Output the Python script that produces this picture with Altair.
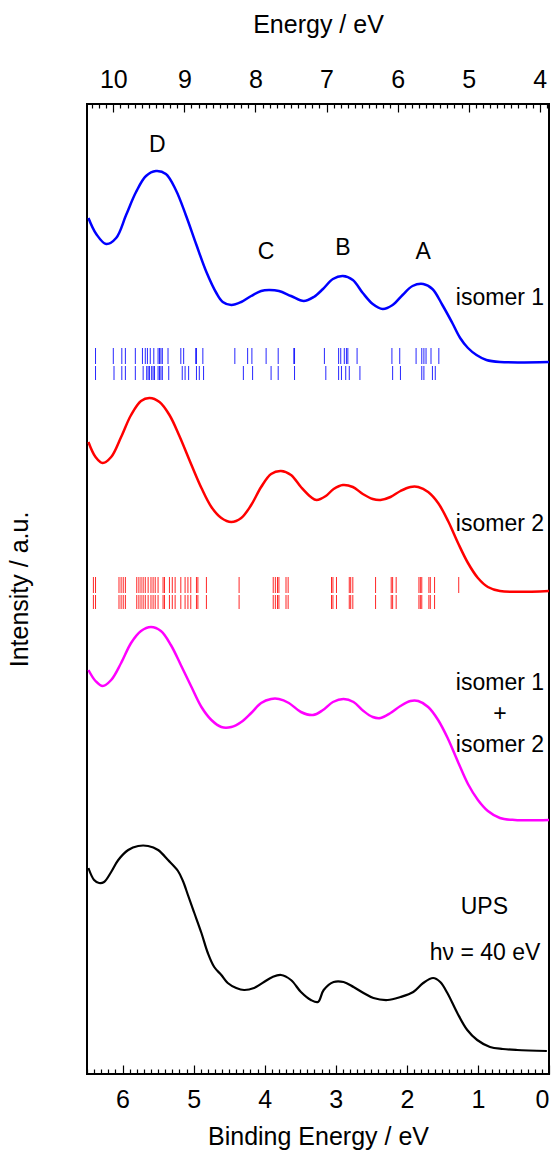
import altair as alt
import pandas as pd

# ---------------- data (binding energy in eV, intensity in a.u.) ----------------
be_iso1 = [6.48, 6.37, 6.23, 6.09, 5.95, 5.81, 5.67, 5.53, 5.39, 5.25, 5.11, 4.96, 4.82, 4.68, 4.59, 4.47,
           4.33, 4.19, 4.05, 3.94, 3.80, 3.63, 3.45, 3.31, 3.18, 3.04, 2.90, 2.76, 2.62, 2.48, 2.34, 2.20,
           2.06, 1.92, 1.77, 1.64, 1.50, 1.36, 1.25, 1.14, 1.02, 0.88, 0.69, 0.0]
i_iso1 = [856, 840, 830, 836, 859, 882, 898, 903, 900, 884, 859, 829, 802, 781, 772, 769,
          772, 778, 783, 784, 783, 778, 773, 777, 785, 795, 798, 794, 781, 770, 765, 769,
          779, 788, 790, 785, 769, 751, 736, 726, 719, 714, 712, 712]

be_iso2 = [6.48, 6.38, 6.28, 6.16, 6.02, 5.88, 5.74, 5.62, 5.48, 5.34, 5.20, 5.03, 4.89, 4.75, 4.61, 4.47,
           4.33, 4.19, 4.05, 3.91, 3.77, 3.63, 3.49, 3.35, 3.27, 3.14, 3.03, 2.90, 2.76, 2.62, 2.48, 2.37,
           2.23, 2.09, 1.95, 1.84, 1.70, 1.56, 1.42, 1.28, 1.14, 1.00, 0.86, 0.69, 0.0]
i_iso2 = [632, 617, 611, 617, 637, 659, 673, 676, 672, 659, 638, 609, 586, 567, 556, 552,
          556, 569, 587, 600, 603, 599, 587, 577, 574, 578, 585, 589, 587, 580, 575, 574,
          577, 583, 587, 587, 582, 571, 553, 531, 511, 496, 487, 483, 483]

be_sum = [6.48, 6.38, 6.28, 6.16, 6.02, 5.88, 5.74, 5.60, 5.46, 5.32, 5.18, 5.03, 4.89, 4.75, 4.61, 4.47,
          4.33, 4.19, 4.05, 3.91, 3.80, 3.66, 3.49, 3.32, 3.18, 3.04, 2.89, 2.75, 2.61, 2.48, 2.37, 2.23,
          2.09, 1.95, 1.84, 1.70, 1.56, 1.42, 1.28, 1.14, 1.00, 0.86, 0.69, 0.48, 0.0]
i_sum = [404, 393, 388, 394, 411, 431, 443, 447, 443, 429, 409, 387, 367, 354, 347, 347,
         352, 361, 371, 375, 375, 371, 362, 359, 364, 372, 375, 372, 363, 357, 356, 361,
         368, 373, 373, 367, 354, 335, 312, 290, 274, 263, 256, 254, 254]

be_ups = [6.48, 6.40, 6.33, 6.26, 6.16, 6.06, 5.92, 5.78, 5.64, 5.50, 5.36, 5.22, 5.15, 5.08, 4.99, 4.89,
          4.80, 4.71, 4.61, 4.52, 4.40, 4.29, 4.15, 4.01, 3.89, 3.77, 3.63, 3.49, 3.35, 3.25, 3.17, 3.03,
          2.89, 2.75, 2.61, 2.47, 2.27, 2.09, 1.91, 1.77, 1.63, 1.53, 1.43, 1.29, 1.15, 1.01, 0.83, 0.65,
          0.45, 0.03]
i_ups = [206, 194, 191, 192, 202, 214, 224, 228, 228, 224, 214, 203, 193, 179, 161, 141,
         121, 107, 99, 91, 86, 84, 86, 92, 97, 99, 94, 82, 74, 72, 84, 92,
         92, 87, 81, 76, 74, 77, 82, 91, 96, 92, 81, 61, 44, 34, 27, 25,
         24, 23]

# calculated levels (eV), two rows per isomer
sticks_iso1_a = [6.38, 6.13, 6.01, 5.96, 5.82, 5.72, 5.68, 5.65, 5.61, 5.56, 5.50, 5.48, 5.46, 5.44, 5.36,
                 5.18, 5.14, 4.97, 4.96, 4.87, 4.42, 4.24, 4.18, 3.98, 3.81, 3.59, 3.58, 3.16, 2.96, 2.93,
                 2.88, 2.85, 2.83, 2.70, 2.21, 2.10, 1.87, 1.79, 1.76, 1.73, 1.66, 1.55]
sticks_iso1_b = [6.38, 6.12, 6.01, 5.96, 5.82, 5.71, 5.66, 5.64, 5.62, 5.59, 5.57, 5.55, 5.50, 5.48, 5.46,
                 5.44, 5.35, 5.16, 5.12, 5.07, 4.96, 4.92, 4.86, 4.30, 4.17, 3.91, 3.81, 3.58, 3.14, 2.96,
                 2.92, 2.86, 2.81, 2.66, 2.20, 2.09, 1.79, 1.76, 1.64, 1.60]
sticks_iso2_a = [6.41, 6.38, 6.05, 6.02, 5.99, 5.96, 5.80, 5.77, 5.74, 5.71, 5.68, 5.64, 5.60, 5.57, 5.54,
                 5.50, 5.43, 5.41, 5.34, 5.30, 5.26, 5.18, 5.12, 5.08, 5.04, 4.96, 4.94, 4.82, 4.36, 3.88,
                 3.85, 3.82, 3.80, 3.70, 3.67, 3.06, 3.04, 2.99, 2.81, 2.79, 2.76, 2.44, 2.22, 2.20, 2.15,
                 1.83, 1.81, 1.79, 1.69, 1.67, 1.61, 1.27]
sticks_iso2_b = [6.41, 6.38, 6.05, 6.02, 5.99, 5.96, 5.80, 5.77, 5.74, 5.71, 5.68, 5.64, 5.60, 5.57, 5.54,
                 5.50, 5.43, 5.41, 5.34, 5.30, 5.26, 5.18, 5.12, 5.08, 5.04, 4.96, 4.94, 4.82, 4.36, 3.88,
                 3.85, 3.82, 3.80, 3.70, 3.67, 3.06, 3.04, 2.99, 2.81, 2.79, 2.76, 2.44, 2.22, 2.20, 2.15,
                 1.83, 1.81, 1.79, 1.69, 1.67, 1.61]

label_text = ["D", "C", "B", "A", "isomer 1", "isomer 2", "isomer 1", "+", "isomer 2", "UPS", "h\u03bd = 40 eV"]
label_be = [5.51, 3.98, 2.90, 1.77, 0.69, 0.69, 0.69, 0.69, 0.69, 0.91, 0.90]
label_i = [929, 822, 826, 822, 776, 550, 391, 360, 329, 167, 121]

be_major = [0.0, 1.0, 2.0, 3.0, 4.0, 5.0, 6.0]
be_minor = [round(k * 0.1, 1) for k in range(0, 66) if k % 10 != 0]
e_offset = 3.87
e_major = [4.0, 5.0, 6.0, 7.0, 8.0, 9.0, 10.0]
e_minor = [round(k * 0.1, 1) for k in range(39, 104) if k % 10 != 0]

# ---------------- chart ----------------
W, H = 462, 970
Y_MAX = 970
FONT_AX = "Liberation Sans"
FONT_TX = "Liberation Sans"
FS_AX = 25
FS_TX = 23
MAJOR_LEN, MINOR_LEN = 9, 5

xs = alt.Scale(domain=[6.5, 0], nice=False, zero=False)
ys = alt.Scale(domain=[0, Y_MAX], nice=False, zero=False)
x_enc = alt.X("be:Q", scale=xs,
              axis=alt.Axis(orient="bottom", title="Binding Energy / eV", values=be_major, format="d",
                            ticks=True, tickSize=MAJOR_LEN, tickWidth=1.2, tickColor="black",
                            offset=-MAJOR_LEN, domain=False, grid=False, labelPadding=13, titlePadding=12,
                            labelFontSize=FS_AX, titleFontSize=FS_AX))
x_minor_enc = alt.X("be:Q", scale=xs,
                    axis=alt.Axis(orient="bottom", title="", values=be_minor, labels=False,
                                  ticks=True, tickSize=MINOR_LEN, tickWidth=1.2, tickColor="black",
                                  offset=-MINOR_LEN, domain=False, grid=False))
y_enc = alt.Y("i:Q", scale=ys,
              axis=alt.Axis(title="Intensity / a.u.", labels=False, ticks=False, domain=False,
                            grid=False, titlePadding=55, titleFontSize=FS_AX))


def curve(be, inten, color, width=2.5):
    df = pd.DataFrame({"be": be, "i": inten})
    return alt.Chart(df).mark_line(color=color, strokeWidth=width, interpolate="catmull-rom").encode(
        x=x_enc, y=y_enc)


def sticks(vals, color, top, bottom):
    df = pd.DataFrame({"be": vals})
    return alt.Chart(df).mark_rule(color=color, strokeWidth=1, opacity=0.85).encode(
        x=x_enc, y=alt.datum(top), y2=alt.datum(bottom))


labels_df = pd.DataFrame({"be": label_be, "i": label_i, "t": label_text})
labels = alt.Chart(labels_df).mark_text(font=FONT_TX, fontSize=FS_TX, color="black",
                                        align="center", baseline="middle").encode(
    x=x_enc, y=y_enc, text="t:N")

main = alt.layer(
    curve(be_iso1, i_iso1, "#0000ff"),
    curve(be_iso2, i_iso2, "#ff0000"),
    curve(be_sum, i_sum, "#ff00ff"),
    curve(be_ups, i_ups, "black", 2.2),
    sticks(sticks_iso1_a, "#0000ff", 726, 710),
    sticks(sticks_iso1_b, "#0000ff", 708, 694),
    sticks(sticks_iso2_a, "#ff0000", 497, 481),
    sticks(sticks_iso2_b, "#ff0000", 479, 465),
    labels,
)
minor_bottom = alt.Chart(pd.DataFrame({"be": be_minor})).mark_point(opacity=0).encode(
    x=x_minor_enc, y=alt.datum(Y_MAX / 2))
bottom_group = alt.layer(main, minor_bottom).resolve_axis(x="independent")

xt = alt.Scale(domain=[6.5 + e_offset, e_offset], nice=False, zero=False)
xt_enc = alt.X("e:Q", scale=xt,
               axis=alt.Axis(orient="top", title="Energy / eV", values=e_major, format="d",
                             ticks=True, tickSize=MAJOR_LEN - 1, tickWidth=1.2, tickColor="black",
                             offset=-(MAJOR_LEN - 1), domain=False, grid=False, labelPadding=12,
                             titlePadding=30, labelFontSize=FS_AX, titleFontSize=FS_AX))
xt_minor_enc = alt.X("e:Q", scale=xt,
                     axis=alt.Axis(orient="top", title="", values=e_minor, labels=False,
                                   ticks=True, tickSize=MINOR_LEN - 1, tickWidth=1.2, tickColor="black",
                                   offset=-(MINOR_LEN - 1), domain=False, grid=False))
top_major = alt.Chart(pd.DataFrame({"e": e_major})).mark_point(opacity=0).encode(
    x=xt_enc, y=alt.datum(Y_MAX / 2))
top_minor = alt.Chart(pd.DataFrame({"e": e_minor})).mark_point(opacity=0).encode(
    x=xt_minor_enc, y=alt.datum(Y_MAX / 2))
top_group = alt.layer(top_major, top_minor).resolve_axis(x="independent")

chart = alt.layer(bottom_group, top_group).resolve_scale(x="independent").properties(
    width=W, height=H,
    padding={"left": 87, "top": 104, "right": 8, "bottom": 76},
    autosize=alt.AutoSizeParams(type="none"),
    background="white",
).configure_view(stroke="black", strokeWidth=2).configure_axis(
    labelFont=FONT_AX, titleFont=FONT_AX, labelColor="black", titleColor="black",
    titleFontWeight="normal")

chart.save("out.html", embed_options={"renderer": "svg", "actions": False})
